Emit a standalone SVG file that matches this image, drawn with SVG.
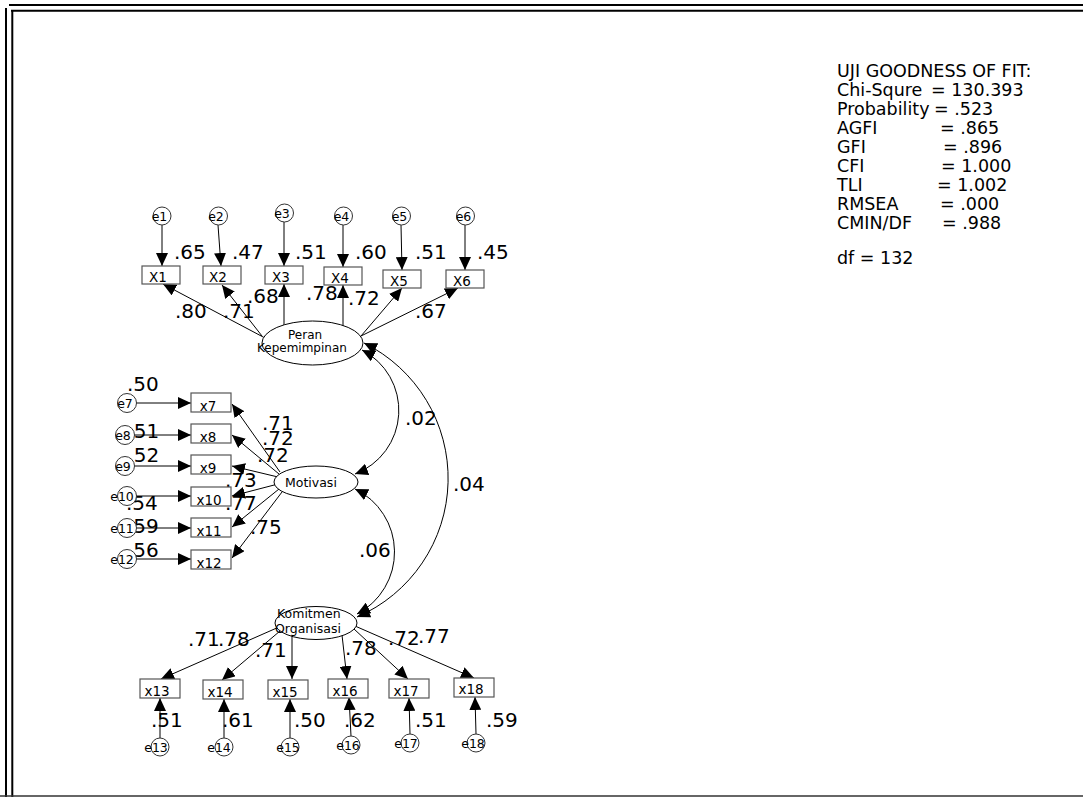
<svg xmlns="http://www.w3.org/2000/svg" width="1083" height="797" viewBox="0 0 1083 797">
<style>
text{font-family:"DejaVu Sans","Liberation Sans",sans-serif;fill:#000}
.box{fill:#fff;stroke:#555;stroke-width:1.2}
.err{fill:#fff;stroke:#333;stroke-width:1}
.lat{fill:#fff;stroke:#000;stroke-width:1}
.el{font-size:12.5px;text-anchor:middle}
.bl{font-size:13.5px;text-anchor:middle}
.ll{font-size:12px}
.ll2{font-size:12.5px}
.num{font-size:20px}
.fit{font-size:17.5px}
.c{fill:none;stroke:#000;stroke-width:1;marker-end:url(#ah)}
.cv{fill:none;stroke:#000;stroke-width:1;marker-start:url(#ah);marker-end:url(#ah)}
</style>
<defs>
<marker id="ah" markerWidth="14" markerHeight="12" refX="13" refY="6" orient="auto-start-reverse" markerUnits="userSpaceOnUse"><path d="M0,0 L13,6 L0,12 Z" fill="#000"/></marker>
</defs>
<rect width="1083" height="797" fill="#fff"/>
<g id="border" fill="none" stroke="#000" stroke-width="2">
<path d="M9,5 H1083 M11,10.7 H1083"/>
<path d="M6,8 V797 M12.3,10 V797"/>
<path d="M0,796 H1083" stroke="#333" stroke-width="1.5"/>
</g>
<g id="connectors">
<path class="c" d="M162,225 L162,266"/>
<path class="c" d="M218,225 L221,266"/>
<path class="c" d="M284,222 L284,266"/>
<path class="c" d="M343,225 L343,267"/>
<path class="c" d="M401,225 L402,270"/>
<path class="c" d="M465,225 L465,270"/>
<path class="c" d="M265,338 L163,284"/>
<path class="c" d="M262,336 L222,285"/>
<path class="c" d="M284,332 L284,284"/>
<path class="c" d="M343,332 L343,285"/>
<path class="c" d="M361,336 L402,288"/>
<path class="c" d="M361,336 L458,288"/>
<path class="c" d="M136,403 L191,403"/>
<path class="c" d="M134,435 L191,435"/>
<path class="c" d="M134,466 L191,466"/>
<path class="c" d="M135,496 L191,496"/>
<path class="c" d="M135,528 L191,528"/>
<path class="c" d="M135,559 L191,559"/>
<path class="c" d="M280,472 L232,404"/>
<path class="c" d="M279,474 L232,435"/>
<path class="c" d="M278,477 L232,466"/>
<path class="c" d="M278,484 L232,496"/>
<path class="c" d="M279,489 L232,527"/>
<path class="c" d="M282,492 L232,558"/>
<path class="c" d="M279,627 L161,679"/>
<path class="c" d="M280,631 L222,680"/>
<path class="c" d="M292,636 L292,679"/>
<path class="c" d="M342,635 L347,679"/>
<path class="c" d="M354,629 L408,679"/>
<path class="c" d="M355,626 L474,678"/>
<path class="c" d="M160,738 L160,698"/>
<path class="c" d="M224,738 L224,699"/>
<path class="c" d="M290,738 L290,699"/>
<path class="c" d="M351,736 L349,697"/>
<path class="c" d="M410,734 L409,698"/>
<path class="c" d="M476,734 L475,697"/>
<path class="cv" d="M362,350 A68,68 0 0 1 355,474"/>
<path class="cv" d="M364,343 A151,151 0 0 1 357,617"/>
<path class="cv" d="M355,489 A70,70 0 0 1 357,614"/>
</g>
<g id="labels" class="num">
<text x="174" y="259">.65</text>
<text x="232" y="259">.47</text>
<text x="295" y="259">.51</text>
<text x="355" y="259">.60</text>
<text x="415" y="259">.51</text>
<text x="477" y="259">.45</text>
<text x="175" y="318">.80</text>
<text x="223" y="318">.71</text>
<text x="247" y="303">.68</text>
<text x="306" y="300">.78</text>
<text x="348" y="305">.72</text>
<text x="415" y="318">.67</text>
<text x="127" y="391">.50</text>
<text x="127.5" y="438">.51</text>
<text x="127.5" y="462">.52</text>
<text x="126" y="510">.54</text>
<text x="127" y="533">.59</text>
<text x="127" y="557">.56</text>
<text x="262" y="430">.71</text>
<text x="262" y="445">.72</text>
<text x="257" y="462">.72</text>
<text x="225" y="487">.73</text>
<text x="225" y="510">.77</text>
<text x="250" y="534">.75</text>
<text x="188" y="646">.71</text>
<text x="218" y="646">.78</text>
<text x="255" y="657">.71</text>
<text x="345" y="655">.78</text>
<text x="388" y="645">.72</text>
<text x="418" y="643">.77</text>
<text x="151" y="727">.51</text>
<text x="222" y="727">.61</text>
<text x="294" y="727">.50</text>
<text x="344" y="727">.62</text>
<text x="415" y="727">.51</text>
<text x="486" y="727">.59</text>
<text x="405" y="425">.02</text>
<text x="453" y="491">.04</text>
<text x="359" y="557">.06</text>
</g>
<g id="e1"><circle class="err" cx="162" cy="216" r="9"/><text class="el" x="159.5" y="220.5">e1</text></g>
<g id="e2"><circle class="err" cx="218.5" cy="216" r="9"/><text class="el" x="216" y="220.5">e2</text></g>
<g id="e3"><circle class="err" cx="284.5" cy="213" r="9"/><text class="el" x="282" y="217.5">e3</text></g>
<g id="e4"><circle class="err" cx="343.5" cy="216" r="9"/><text class="el" x="341.5" y="220.5">e4</text></g>
<g id="e5"><circle class="err" cx="401.5" cy="216" r="9"/><text class="el" x="399.5" y="220.5">e5</text></g>
<g id="e6"><circle class="err" cx="465.5" cy="216" r="9"/><text class="el" x="463.5" y="220.5">e6</text></g>
<g id="X1"><rect class="box" x="142" y="266" width="38" height="18"/><text class="bl" x="158" y="282">X1</text></g>
<g id="X2"><rect class="box" x="203" y="266" width="38" height="18"/><text class="bl" x="218" y="282">X2</text></g>
<g id="X3"><rect class="box" x="265" y="266" width="38" height="18"/><text class="bl" x="281" y="282">X3</text></g>
<g id="X4"><rect class="box" x="324" y="267" width="38" height="18"/><text class="bl" x="340" y="283">X4</text></g>
<g id="X5"><rect class="box" x="383" y="270" width="38" height="18"/><text class="bl" x="399" y="286">X5</text></g>
<g id="X6"><rect class="box" x="446" y="270" width="38" height="18"/><text class="bl" x="462" y="286">X6</text></g>
<g id="peran"><ellipse class="lat" cx="312.5" cy="343" rx="50.5" ry="22"/><text class="ll" x="288" y="339">Peran</text><text class="ll" x="257" y="352">Kepemimpinan</text></g>
<g id="e7"><circle class="err" cx="127" cy="403" r="9.5"/><text class="el" x="125" y="408">e7</text></g>
<g id="e8"><circle class="err" cx="125" cy="435" r="9.5"/><text class="el" x="123" y="440">e8</text></g>
<g id="e9"><circle class="err" cx="125" cy="466" r="9.5"/><text class="el" x="123" y="471">e9</text></g>
<g id="e10"><circle class="err" cx="127" cy="496" r="9.5"/><text class="el" x="122" y="501">e10</text></g>
<g id="e11"><circle class="err" cx="127" cy="528" r="9.5"/><text class="el" x="122" y="533">e11</text></g>
<g id="e12"><circle class="err" cx="127" cy="559" r="9.5"/><text class="el" x="122" y="564">e12</text></g>
<g id="x7"><rect class="box" x="191" y="393" width="40" height="19"/><text class="bl" x="208" y="410.5">x7</text></g>
<g id="x8"><rect class="box" x="191" y="424" width="40" height="19"/><text class="bl" x="208" y="441.5">x8</text></g>
<g id="x9"><rect class="box" x="191" y="455" width="40" height="19"/><text class="bl" x="208" y="472.5">x9</text></g>
<g id="x10"><rect class="box" x="191" y="487" width="40" height="19"/><text class="bl" x="209" y="504.5">x10</text></g>
<g id="x11"><rect class="box" x="191" y="518" width="40" height="19"/><text class="bl" x="209" y="535.5">x11</text></g>
<g id="x12"><rect class="box" x="191" y="550" width="40" height="19"/><text class="bl" x="209" y="567.5">x12</text></g>
<g id="motivasi"><ellipse class="lat" cx="316" cy="482" rx="42" ry="16"/><text class="ll2" x="285" y="487">Motivasi</text></g>
<g id="komitmen"><ellipse class="lat" cx="316" cy="623" rx="41" ry="16.5"/><text class="ll2" x="277" y="618">Komitmen</text><text class="ll2" x="275" y="633">Organisasi</text></g>
<g id="x13"><rect class="box" x="140" y="679" width="40" height="19"/><text class="bl" x="157" y="696">x13</text></g>
<g id="x14"><rect class="box" x="203" y="680" width="40" height="19"/><text class="bl" x="220" y="697">x14</text></g>
<g id="x15"><rect class="box" x="268" y="680" width="40" height="19"/><text class="bl" x="285" y="697">x15</text></g>
<g id="x16"><rect class="box" x="328" y="679" width="40" height="19"/><text class="bl" x="345" y="696">x16</text></g>
<g id="x17"><rect class="box" x="389" y="679" width="40" height="19"/><text class="bl" x="406" y="696">x17</text></g>
<g id="x18"><rect class="box" x="454" y="678" width="40" height="19"/><text class="bl" x="471" y="694">x18</text></g>
<g id="e13"><circle class="err" cx="160" cy="747" r="9"/><text class="el" x="156" y="752">e13</text></g>
<g id="e14"><circle class="err" cx="224" cy="747" r="9"/><text class="el" x="219" y="752">e14</text></g>
<g id="e15"><circle class="err" cx="290" cy="747" r="9"/><text class="el" x="288" y="752">e15</text></g>
<g id="e16"><circle class="err" cx="351" cy="745" r="9"/><text class="el" x="348" y="750">e16</text></g>
<g id="e17"><circle class="err" cx="410" cy="743" r="9"/><text class="el" x="406" y="748">e17</text></g>
<g id="e18"><circle class="err" cx="476" cy="743" r="9"/><text class="el" x="473" y="748">e18</text></g>
<g id="fit" class="fit">
<text x="837" y="77">UJI GOODNESS OF FIT:</text>
<text x="837" y="96">Chi-Squre</text><text x="931" y="96">= 130.393</text>
<text x="837" y="115">Probability</text><text x="934" y="115">= .523</text>
<text x="837" y="134">AGFI</text><text x="940" y="134">= .865</text>
<text x="837" y="153">GFI</text><text x="943" y="153">= .896</text>
<text x="837" y="172">CFI</text><text x="941" y="172">= 1.000</text>
<text x="837" y="191">TLI</text><text x="937" y="191">= 1.002</text>
<text x="837" y="210">RMSEA</text><text x="940" y="210">= .000</text>
<text x="837" y="229">CMIN/DF</text><text x="942" y="229">= .988</text>
<text x="837" y="264">df = 132</text>
</g>
</svg>
